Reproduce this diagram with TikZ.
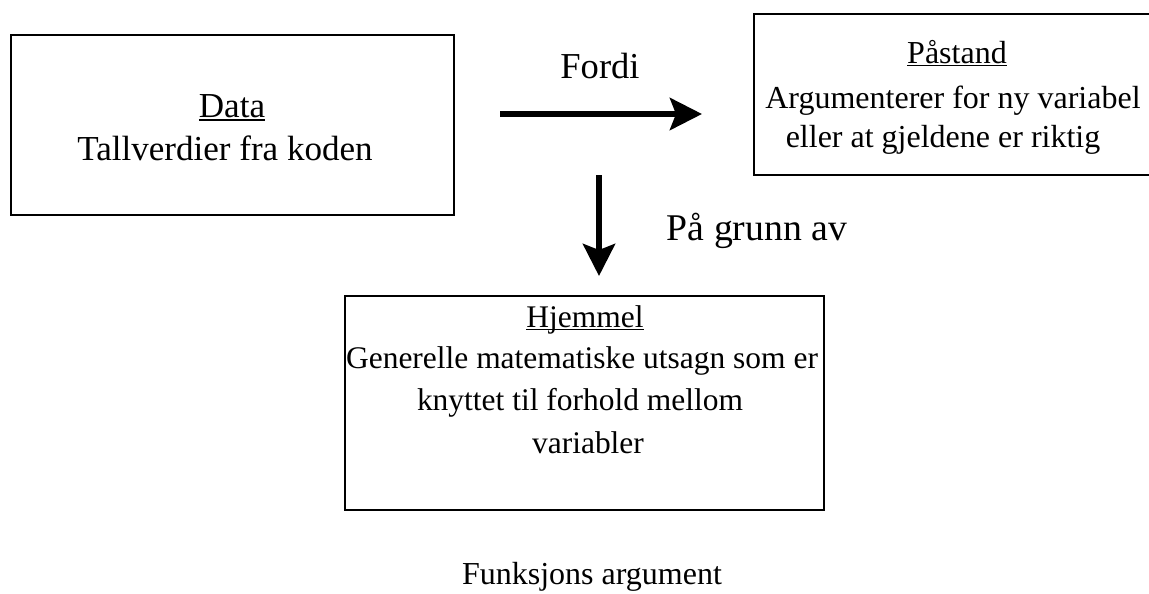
\documentclass[tikz,border=0pt]{standalone}
\usepackage{fontspec}
\setmainfont{Liberation Serif}
\usetikzlibrary{arrows.meta}
% word underline sitting just below the baseline
\newcommand{\ulword}[1]{\mbox{\setbox0\hbox{#1}\rlap{\rule[-0.1em]{\wd0}{0.05em}}\box0}}
\newcommand{\fsz}[1]{\fontsize{#1}{#1}\selectfont}
\begin{document}
\begin{tikzpicture}[x=0.75pt,y=-0.75pt,
  box/.style={draw,line width=1.6pt,inner sep=0pt},
  txt/.style={anchor=base,inner sep=0pt},
  bigarrow/.style={line width=4.5pt,-{Stealth[length=24pt,width=24pt,inset=4.5pt]}}]
\useasboundingbox (0,0) rectangle (1149,593);
\clip (0,0) rectangle (1149,593);

% boxes
\node[box,minimum width=332.25pt,minimum height=135pt] (data) at (232.5,125) {};
\node[box,minimum width=308.25pt,minimum height=120.75pt] (pastand) at (959.5,94.5) {};
\node[box,minimum width=359.25pt,minimum height=160.5pt] (hjemmel) at (584.5,403) {};

% box texts
\node[txt,font=\fsz{26.3pt}] (dataT) at (232,117) {\ulword{Data}};
\node[txt,font=\fsz{26.3pt}] (dataL) at (225,160) {Tallverdier fra koden};

\node[txt,font=\fsz{24pt}] (pastT) at (957,63) {\ulword{Påstand}};
\node[txt,font=\fsz{24pt}] (pastL1) at (953,108) {Argumenterer for ny variabel};
\node[txt,font=\fsz{24pt}] (pastL2) at (943,147) {eller at gjeldene er riktig};

\node[txt,font=\fsz{23.6pt}] (hjT) at (585,327) {\ulword{Hjemmel}};
\node[txt,font=\fsz{23.6pt}] (hjL1) at (582,368) {Generelle matematiske utsagn som er};
\node[txt,font=\fsz{23.6pt}] (hjL2) at (580,410) {knyttet til forhold mellom};
\node[txt,font=\fsz{23.6pt}] (hjL3) at (588,453) {variabler};

% arrows and their labels
\coordinate (fordiS) at (500,114);
\coordinate (fordiE) at (702,114);
\coordinate (grunnS) at (599,175);
\coordinate (grunnE) at (599,276);
\draw[bigarrow] (fordiS) -- (fordiE);
\draw[bigarrow] (grunnS) -- (grunnE);
\node[txt,font=\fsz{27.4pt}] (fordi) at (600,78) {Fordi};
\node[txt,font=\fsz{28.3pt}] (grunn) at (757,240) {På grunn av};

% caption
\node[txt,font=\fsz{24pt}] (caption) at (592,584) {Funksjons argument};
\end{tikzpicture}
\end{document}
